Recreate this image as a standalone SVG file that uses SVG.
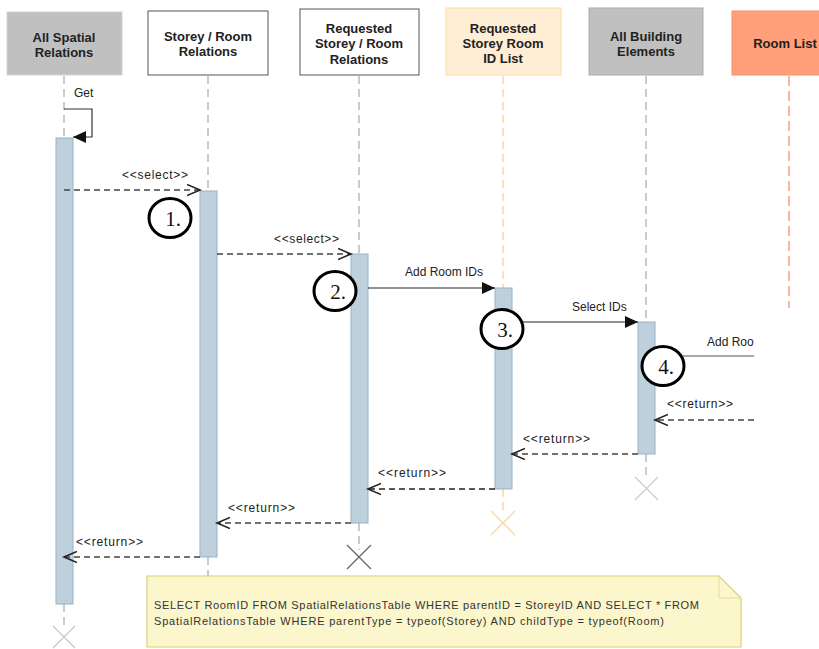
<svg xmlns="http://www.w3.org/2000/svg" width="819" height="649" viewBox="0 0 819 649">
<defs>
<style>
.hdr{font-family:"Liberation Sans",Arial,sans-serif;font-weight:bold;font-size:13px;fill:#222;text-anchor:middle}
.lbl{font-family:"Liberation Sans",Arial,sans-serif;font-size:12px;fill:#222}
.note{font-family:"Liberation Sans",Arial,sans-serif;font-size:11px;fill:#333}
.num{font-family:"Liberation Serif","Times New Roman",serif;font-size:21px;fill:#111;text-anchor:middle}
.ll{stroke:#bbbbbb;stroke-width:1.5;stroke-dasharray:8 5;fill:none}
.bar{fill:#bfd0dd;stroke:#95b3ca;stroke-width:1}
.xk{stroke-width:1.3;fill:none}
.sync{stroke:#222;stroke-width:1.2;fill:none}
.ret{stroke:#444;stroke-width:1.5;stroke-dasharray:6 4;fill:none}
.circ{fill:#fff;stroke:#000;stroke-width:3}
</style>
<marker id="fa" markerUnits="userSpaceOnUse" markerWidth="14" markerHeight="14" refX="13" refY="6" orient="auto">
<path d="M0,0 L13,6 L0,12 Z" fill="#111"/>
</marker>
<marker id="oa" markerUnits="userSpaceOnUse" markerWidth="16" markerHeight="14" refX="13" refY="6" orient="auto">
<path d="M0,0.5 L13,6 L0,11.5" fill="none" stroke="#222" stroke-width="1.6"/>
</marker>
</defs>

<g id="lifeline-all-spatial">
<rect x="7" y="12" width="115" height="63" fill="#c0c0c0" stroke="#d2d2d2"/>
<text class="hdr" x="64" y="42">All Spatial</text>
<text class="hdr" x="64" y="57">Relations</text>
<line class="ll" x1="64" y1="76" x2="64" y2="138"/>
<line class="ll" x1="64" y1="604" x2="64" y2="630"/>
<rect class="bar" x="56" y="138" width="17" height="466"/>
<path class="xk" stroke="#c8c8c8" d="M53,626 L75,648 M75,626 L53,648"/>
</g>

<g id="lifeline-storey-room">
<rect x="148" y="11" width="120" height="64" fill="#fff" stroke="#555"/>
<text class="hdr" x="208" y="41">Storey / Room</text>
<text class="hdr" x="208" y="56">Relations</text>
<line class="ll" x1="208" y1="76" x2="208" y2="191"/>
<line class="ll" x1="208" y1="557" x2="208" y2="580"/>
<rect class="bar" x="200" y="191" width="17" height="366"/>
</g>

<g id="lifeline-requested-storey-room">
<rect x="300" y="9" width="119" height="66" fill="#fff" stroke="#555"/>
<text class="hdr" x="359" y="33">Requested</text>
<text class="hdr" x="359" y="48">Storey / Room</text>
<text class="hdr" x="359" y="64">Relations</text>
<line class="ll" x1="359" y1="76" x2="359" y2="254"/>
<line class="ll" x1="359" y1="523" x2="359" y2="550"/>
<rect class="bar" x="351" y="254" width="17" height="269"/>
<path class="xk" stroke="#666" d="M347,545 L371,569 M371,545 L347,569"/>
</g>

<g id="lifeline-room-id-list">
<rect x="446" y="8" width="115" height="67" fill="#feeed6" stroke="#fcdcaa"/>
<text class="hdr" x="503" y="33">Requested</text>
<text class="hdr" x="503" y="48">Storey Room</text>
<text class="hdr" x="503" y="63">ID List</text>
<line class="ll" style="stroke:#fbd6a0" x1="503" y1="76" x2="503" y2="288"/>
<line class="ll" style="stroke:#fbd6a0" x1="503" y1="489" x2="503" y2="515"/>
<rect class="bar" x="495" y="288" width="17" height="201"/>
<path class="xk" stroke="#fbd6a0" d="M491,511 L515,535 M515,511 L491,535"/>
</g>

<g id="lifeline-all-building">
<rect x="589" y="8" width="114" height="67" fill="#c0c0c0" stroke="#ababab"/>
<text class="hdr" x="646" y="41">All Building</text>
<text class="hdr" x="646" y="56">Elements</text>
<line class="ll" x1="646" y1="76" x2="646" y2="322"/>
<line class="ll" x1="646" y1="454" x2="646" y2="480"/>
<rect class="bar" x="638" y="322" width="17" height="132"/>
<path class="xk" stroke="#cccccc" d="M635,477 L658,500 M658,477 L635,500"/>
</g>

<g id="lifeline-room-list">
<rect x="732" y="11" width="120" height="64" fill="#ffa07a" stroke="#f4906a"/>
<text class="hdr" x="785" y="48">Room List</text>
<line class="ll" style="stroke:#f7a080;stroke-dasharray:10 5" x1="789" y1="76" x2="789" y2="308"/>
</g>

<g id="connectors">
<polyline class="sync" style="stroke:#333" points="64,109 92,109 92,137 73,137" marker-end="url(#fa)"/>
<text class="lbl" x="74" y="97">Get</text>

<line class="ret" x1="64" y1="190" x2="200" y2="190" marker-end="url(#oa)"/>
<text class="lbl" x="122" y="179" textLength="66" lengthAdjust="spacing">&lt;&lt;select&gt;&gt;</text>

<line class="ret" x1="217" y1="254" x2="351" y2="254" marker-end="url(#oa)"/>
<text class="lbl" x="274" y="243" textLength="65" lengthAdjust="spacing">&lt;&lt;select&gt;&gt;</text>

<line class="sync" x1="368" y1="288" x2="495" y2="288" marker-end="url(#fa)"/>
<text class="lbl" x="405" y="276">Add Room IDs</text>

<line class="sync" x1="512" y1="322" x2="638" y2="322" marker-end="url(#fa)"/>
<text class="lbl" x="572" y="311">Select IDs</text>

<line class="sync" style="stroke:#555" x1="655" y1="356" x2="754" y2="356"/>
<text class="lbl" x="707" y="346">Add Roo</text>

<line class="ret" x1="754" y1="420" x2="655" y2="420" marker-end="url(#oa)"/>
<text class="lbl" x="667" y="408" textLength="66" lengthAdjust="spacing">&lt;&lt;return&gt;&gt;</text>

<line class="ret" x1="638" y1="454" x2="512" y2="454" marker-end="url(#oa)"/>
<text class="lbl" x="523" y="443" textLength="67" lengthAdjust="spacing">&lt;&lt;return&gt;&gt;</text>

<line class="ret" style="stroke:#222" x1="495" y1="489" x2="368" y2="489" marker-end="url(#oa)"/>
<text class="lbl" x="378" y="477" textLength="68" lengthAdjust="spacing">&lt;&lt;return&gt;&gt;</text>

<line class="ret" x1="351" y1="523" x2="217" y2="523" marker-end="url(#oa)"/>
<text class="lbl" x="228" y="512" textLength="67" lengthAdjust="spacing">&lt;&lt;return&gt;&gt;</text>

<line class="ret" x1="200" y1="557" x2="64" y2="557" marker-end="url(#oa)"/>
<text class="lbl" x="76" y="546" textLength="67" lengthAdjust="spacing">&lt;&lt;return&gt;&gt;</text>
</g>

<g id="step-1">
<ellipse class="circ" cx="170" cy="218" rx="21" ry="19.5"/>
<text class="num" x="173" y="226">1.</text>
</g>
<g id="step-2">
<ellipse class="circ" cx="335" cy="291" rx="21" ry="19.5"/>
<text class="num" x="338" y="299">2.</text>
</g>
<g id="step-3">
<ellipse class="circ" cx="502" cy="329" rx="21" ry="19.5"/>
<text class="num" x="505" y="337">3.</text>
</g>
<g id="step-4">
<ellipse class="circ" cx="663" cy="366" rx="21" ry="19.5"/>
<text class="num" x="666" y="374">4.</text>
</g>

<g id="note">
<path d="M147,576 L719,576 L741,598 L741,647 L147,647 Z" fill="#fbf6cb" stroke="#dccf70" stroke-width="1.2"/>
<path d="M719,576 L719,598 L741,598" fill="none" stroke="#e6dc98" stroke-width="1"/>
<text class="note" x="154" y="609" textLength="545" lengthAdjust="spacing">SELECT RoomID FROM SpatialRelationsTable WHERE  parentID = StoreyID AND SELECT * FROM</text>
<text class="note" x="154" y="625" textLength="510" lengthAdjust="spacing">SpatialRelationsTable WHERE parentType = typeof(Storey) AND childType = typeof(Room)</text>
</g>
</svg>
